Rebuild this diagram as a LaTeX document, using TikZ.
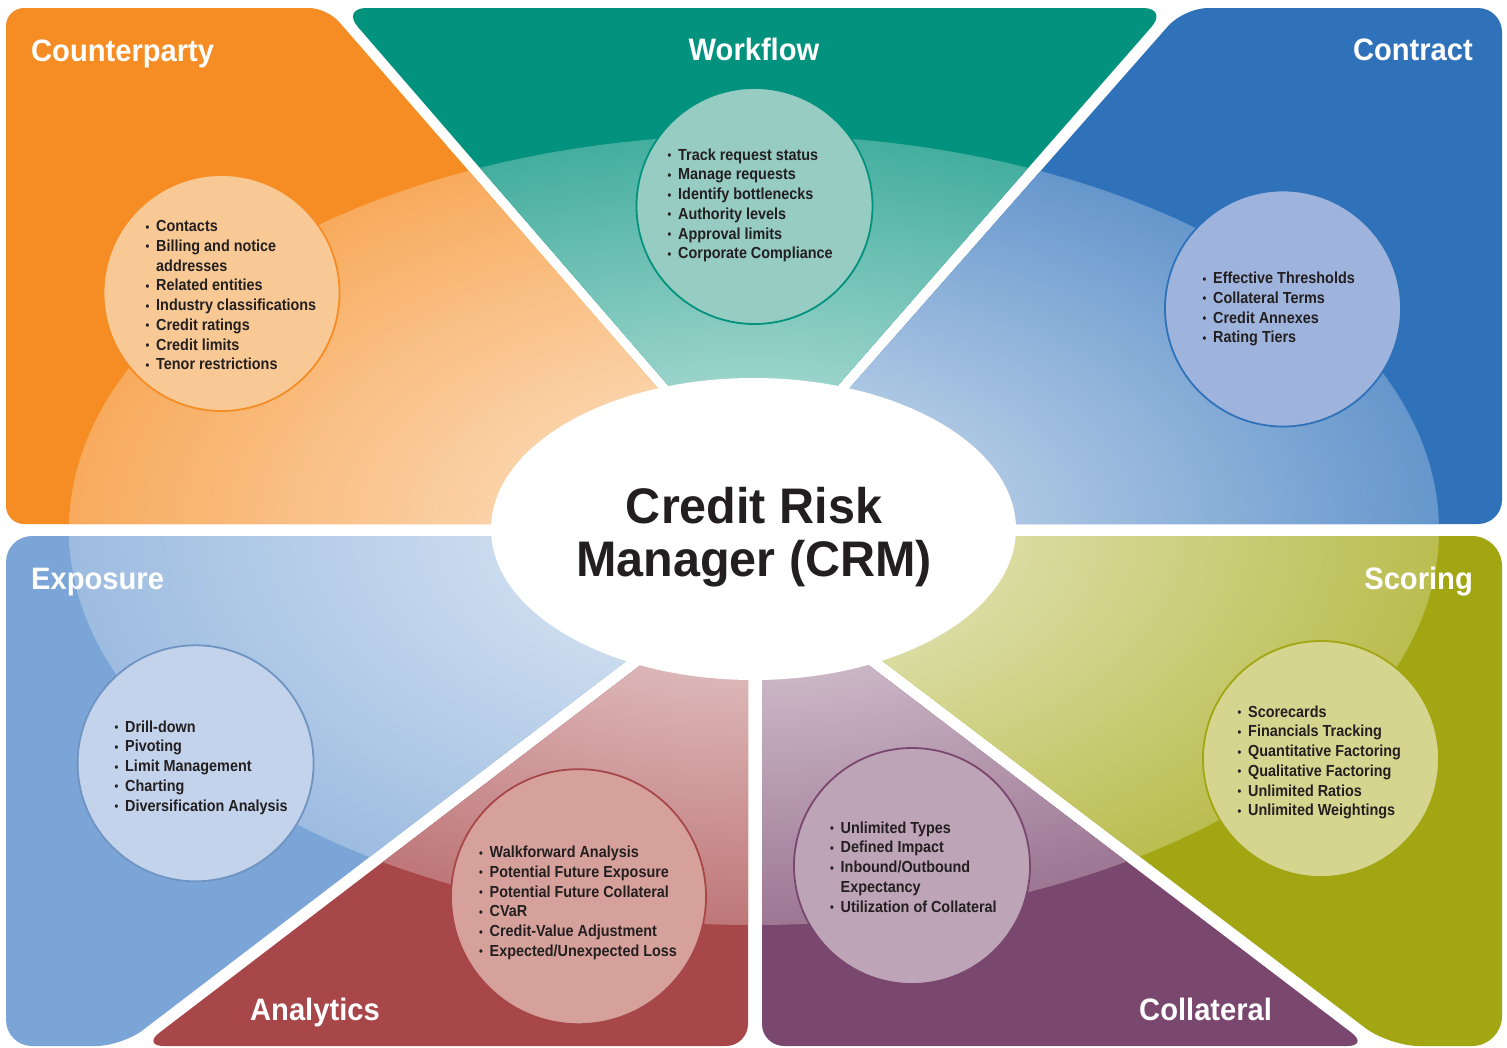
\documentclass[tikz,border=0pt]{standalone}
\usepackage{fontspec}
\usetikzlibrary{shapes.geometric}
\setmainfont{Liberation Sans}
\newfontfamily\titlefamily{Liberation Sans}[FakeStretch=0.97]
\newfontfamily\lblfamily{Liberation Sans}[FakeStretch=0.94]
\newfontfamily\itemfamily{Liberation Sans}[FakeStretch=0.9]
\definecolor{cpC}{RGB}{245,141,36}
\definecolor{wfC}{RGB}{3,146,125}
\definecolor{ctC}{RGB}{48,114,186}
\definecolor{exC}{RGB}{123,165,214}
\definecolor{anC}{RGB}{168,71,74}
\definecolor{clC}{RGB}{122,71,110}
\definecolor{scC}{RGB}{162,166,18}
\definecolor{cpF}{RGB}{249,201,149}
\definecolor{wfF}{RGB}{150,204,194}
\definecolor{ctF}{RGB}{158,180,220}
\definecolor{exF}{RGB}{195,211,236}
\definecolor{anF}{RGB}{215,161,155}
\definecolor{clF}{RGB}{189,164,183}
\definecolor{scF}{RGB}{214,213,143}
\definecolor{txt}{RGB}{35,31,32}
\colorlet{ovA}{white}\colorlet{ovB}{white}\colorlet{ovC}{white}
\pgfdeclareradialshading[ovA,ovB,ovC]{ovshade}{\pgfpointorigin}{color(0bp)=(ovA); color(9.5bp)=(ovB); color(25bp)=(ovC); color(50bp)=(ovC)}
\newcommand\sector[3]{%
  \colorlet{ovA}{#1!30!white}\colorlet{ovB}{#1!40!white}\colorlet{ovC}{#1!74!white}%
  \begin{scope}
    \clip[rounded corners=#2] #3;
    \fill[#1] (0,0) rectangle (1507,1047);
    \shade[shading=ovshade] (754,530) ellipse [x radius=685, y radius=395];
  \end{scope}}
\newcommand\itm[1]{\hbox{\makebox[10.5pt][l]{\raisebox{0.5pt}{\fontsize{12}{12}\selectfont\textbullet}}#1}}
\newcommand\cnt[1]{\hbox{\hspace*{10.5pt}#1}}
\newcommand\blist[1]{\vtop{\itemfamily\bfseries\fontsize{16}{19.75}\selectfont #1}}
\tikzset{
  bubble/.style={circle, inner sep=0pt, line width=1.8pt, minimum size=236pt},
  lbl/.style={inner sep=0pt, text=white, font=\lblfamily\bfseries\fontsize{31}{33}\selectfont},
  items/.style={anchor=base west, inner sep=0pt, text=txt},
  ttl/.style={anchor=base, inner sep=0pt, text=txt, font=\titlefamily\bfseries\fontsize{50}{53}\selectfont}
}
\begin{document}
\begin{tikzpicture}[x=1pt,y=-1pt]
\useasboundingbox (0,0) rectangle (1507,1047);
\fill[white] (0,0) rectangle (1507,1047);
% sectors
\sector{cpC}{18}{(6,8) -- (327,8) -- (776,524) -- (6,524) -- cycle}
\sector{wfC}{25}{(341.5,8) -- (1168,8) -- (752.6,483) -- cycle}
\sector{ctC}{24}{(1184,8) -- (1502,8) -- (1502,524) -- (730,524) -- cycle}
\sector{exC}{26}{(6,536) -- (790,536) -- (122,1046) -- (6,1046) -- cycle}
\sector{anC}{22}{(748,583) -- (748,1046) -- (142,1046) -- cycle}
\sector{clC}{22}{(762,584) -- (1369,1046) -- (762,1046) -- cycle}
\sector{scC}{30}{(718,536) -- (1502,536) -- (1502,1046) -- (1389,1046) -- cycle}
% centre
\node[ellipse, fill=white, inner sep=0pt, minimum width=525pt, minimum height=302pt] (crm) at (753.5,529) {};
\node[ttl] (ttlA) at (754,523) {Credit Risk};
\node[ttl] (ttlB) at (754,576) {Manager (CRM)};
% bubbles
\node[bubble, fill=cpF, draw=cpC] (cpB) at (221.5,293) {};
\node[bubble, fill=wfF, draw=wfC] (wfB) at (754.5,206) {};
\node[bubble, fill=ctF, draw=ctC] (ctB) at (1283,308.5) {};
\node[bubble, fill=exF, draw=exC!90!black] (exB) at (195.6,763.3) {};
\node[bubble, fill=anF, draw=anC, minimum size=255pt] (anB) at (578.5,896.7) {};
\node[bubble, fill=clF, draw=clC] (clB) at (912,866) {};
\node[bubble, fill=scF, draw=scC] (scB) at (1321,759) {};
% labels
\node[lbl, anchor=base west] (cpL) at (31,61) {Counterparty};
\node[lbl, anchor=base] (wfL) at (754,60) {Workflow};
\node[lbl, anchor=base east] (ctL) at (1473,60) {Contract};
\node[lbl, anchor=base west] (exL) at (31,589) {Exposure};
\node[lbl, anchor=base east] (scL) at (1473,589) {Scoring};
\node[lbl, anchor=base west] (anL) at (250,1020) {Analytics};
\node[lbl, anchor=base west] (clL) at (1139,1020) {Collateral};
% lists
\node[items] (cpI) at (145.5,231.5) {\blist{\itm{Contacts}\itm{Billing and notice}\cnt{addresses}\itm{Related entities}\itm{Industry classifications}\itm{Credit ratings}\itm{Credit limits}\itm{Tenor restrictions}}};
\node[items] (wfI) at (667.5,160) {\blist{\itm{Track request status}\itm{Manage requests}\itm{Identify bottlenecks}\itm{Authority levels}\itm{Approval limits}\itm{Corporate Compliance}}};
\node[items] (ctI) at (1202.5,283.5) {\blist{\itm{Effective Thresholds}\itm{Collateral Terms}\itm{Credit Annexes}\itm{Rating Tiers}}};
\node[items] (exI) at (114.5,732) {\blist{\itm{Drill-down}\itm{Pivoting}\itm{Limit Management}\itm{Charting}\itm{Diversification Analysis}}};
\node[items] (anI) at (479,857.5) {\blist{\itm{Walkforward Analysis}\itm{Potential Future Exposure}\itm{Potential Future Collateral}\itm{CVaR}\itm{Credit-Value Adjustment}\itm{Expected/Unexpected Loss}}};
\node[items] (clI) at (830,833) {\blist{\itm{Unlimited Types}\itm{Defined Impact}\itm{Inbound/Outbound}\cnt{Expectancy}\itm{Utilization of Collateral}}};
\node[items] (scI) at (1237.5,717) {\blist{\itm{Scorecards}\itm{Financials Tracking}\itm{Quantitative Factoring}\itm{Qualitative Factoring}\itm{Unlimited Ratios}\itm{Unlimited Weightings}}};
\end{tikzpicture}
\end{document}
